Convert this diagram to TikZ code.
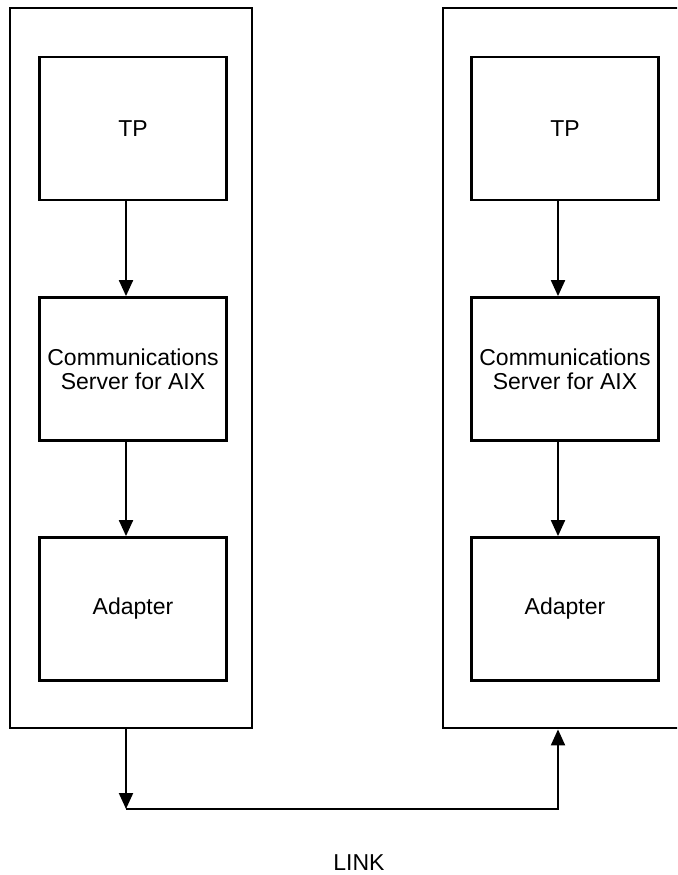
\documentclass[tikz,border=0pt]{standalone}
\usepackage{fontspec}
\setmainfont{Liberation Sans}
\usetikzlibrary{arrows.meta}
\begin{document}
\begin{tikzpicture}[x=1pt,y=-1pt,
  outerbox/.style={draw,line width=2.8pt,minimum width=#1,minimum height=720pt,inner sep=0pt},
  innerbox/.style={draw,line width=2.8pt,minimum width=187pt,minimum height=143pt,inner sep=0pt,align=center,
    font=\fontsize{23}{24}\selectfont},
  arr/.style={line width=2pt,-{Triangle[length=16pt,width=14pt]}},
  lnk/.style={line width=2pt}]
\useasboundingbox (0,0) rectangle (677,875);
\clip (0,0) rectangle (677,875);
% outer boxes
\node[outerbox=242pt] (outerL) at (131,368) {};
\node[outerbox=260pt] (outerR) at (573,368) {};
% left stack
\node[innerbox] (tpL) at (133,128.5) {TP};
\node[innerbox] (csL) at (133,369) {Communications\\Server for AIX};
\node[innerbox] (adL) at (133,609) {Adapter};
% right stack
\node[innerbox] (tpR) at (565,128.5) {TP};
\node[innerbox] (csR) at (565,369) {Communications\\Server for AIX};
\node[innerbox] (adR) at (565,609) {Adapter};
% vertical arrows
\draw[arr] ([xshift=-7pt]tpL.south) -- ([xshift=-7pt]csL.north);
\draw[arr] ([xshift=-7pt]csL.south) -- ([xshift=-7pt]adL.north);
\draw[arr] ([xshift=-7pt]tpR.south) -- ([xshift=-7pt]csR.north);
\draw[arr] ([xshift=-7pt]csR.south) -- ([xshift=-7pt]adR.north);
% link
\coordinate (lstart) at ([xshift=-7pt]adL.south |- outerL.south);
\coordinate (rend) at ([xshift=-7pt]adR.south |- outerR.south);
\coordinate (lcorner) at (126,809);
\coordinate (rcorner) at (558,809);
\draw[arr] (lstart) -- (lcorner);
\draw[arr] (lcorner) -- (rcorner) -- (rend);
\node[font=\fontsize{23}{24}\selectfont] (link) at (359,863) {LINK};
\end{tikzpicture}
\end{document}
